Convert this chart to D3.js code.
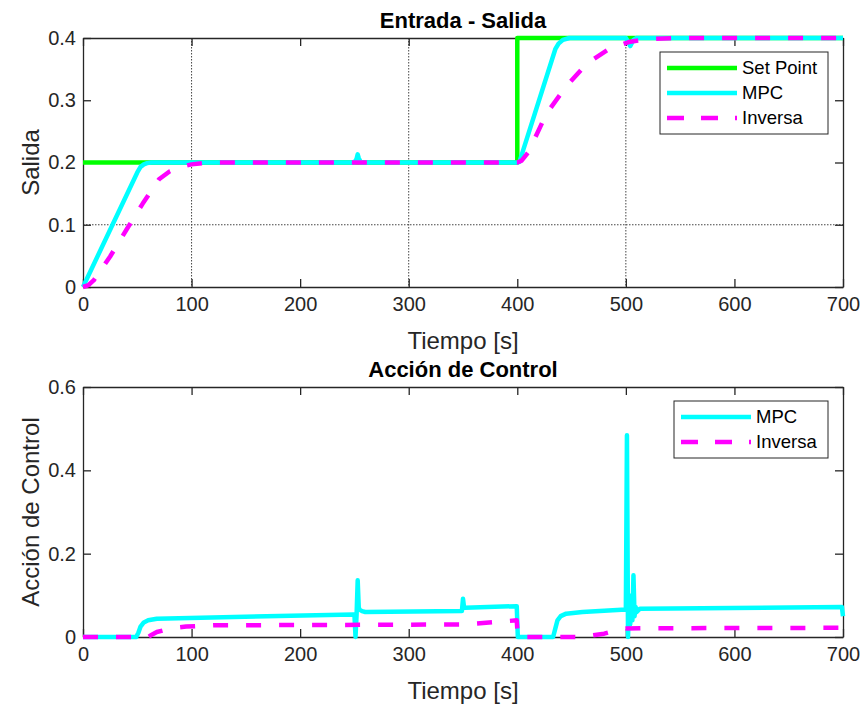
<!DOCTYPE html>
<html>
<head>
<meta charset="utf-8">
<script src="https://cdn.jsdelivr.net/npm/d3@7"></script>
<style>
  body { margin: 0; background: #fff; }
  svg text { font-family: "Liberation Sans", Arial, sans-serif; fill: #262626; }
</style>
</head>
<body>
<div id="chart"></div>
<script>
// ---- data ----
const spTime = [0, 400, 400, 700];
const spVal  = [0.2, 0.2, 0.4, 0.4];

const mpcTime = [0, 50, 53, 56, 59, 63, 250, 252, 253, 254, 256, 400, 402, 435, 438, 442, 448, 500, 502, 504, 507, 510, 700];
const mpcVal  = [0, 0.184, 0.193, 0.197, 0.199, 0.2, 0.2, 0.206, 0.213, 0.207, 0.2, 0.2, 0.201, 0.382, 0.391, 0.397, 0.4, 0.4, 0.394, 0.387, 0.397, 0.4, 0.4];

const invTime = [0, 5, 10, 25, 40, 55, 70, 80, 90, 100, 115, 400, 404, 410, 427, 445, 464, 485, 504, 520, 545, 700];
const invVal  = [0, 0.003, 0.011, 0.049, 0.092, 0.134, 0.173, 0.186, 0.193, 0.197, 0.2, 0.2, 0.203, 0.216, 0.279, 0.322, 0.359, 0.383, 0.394, 0.398, 0.4, 0.4];

const uMpcTime = [0, 49, 51, 53, 56, 60, 68, 249, 250, 251, 252, 253, 254, 255, 257, 260, 349, 350, 351, 352, 399.5, 400.5, 433, 435, 437, 440, 445, 460, 500, 501, 502, 503, 504, 505, 506, 507, 508, 509, 510, 513, 699, 700];
const uMpcVal  = [0, 0, 0.01, 0.025, 0.035, 0.04, 0.044, 0.054, 0.054, 0, 0.054, 0.136, 0.07, 0.065, 0.062, 0.06, 0.0624, 0.092, 0.07, 0.0704, 0.074, 0, 0, 0.02, 0.04, 0.05, 0.056, 0.06, 0.066, 0.484, 0, 0.1, 0.03, 0.08, 0.04, 0.148, 0.05, 0.072, 0.06, 0.068, 0.072, 0.05];

const uInvTime = [0, 60, 63, 68, 74, 85, 95, 120, 350, 360, 380, 399.5, 400.5, 460, 470, 480, 490, 497, 520, 700];
const uInvVal  = [0, 0, 0.005, 0.012, 0.016, 0.022, 0.025, 0.028, 0.03, 0.032, 0.036, 0.04, 0, 0, 0.004, 0.008, 0.015, 0.02, 0.021, 0.022];

const xTicks = [0, 100, 200, 300, 400, 500, 600, 700];
const yTicksTop = [0, 0.1, 0.2, 0.3, 0.4];
const yTicksBot = [0, 0.2, 0.4, 0.6];
const xGrid = [100, 300, 500];
const yGrid = [0.1];

// ---- layout ----
const width = 866, height = 704;
const left = 83, right = 843;
const tickFont = 20, labelFont = 24, titleFont = 22;
const green = "#00ff00", cyan = "#00ffff", magenta = "#ff00ff";

const svg = d3.select("#chart").append("svg")
  .attr("width", width)
  .attr("height", height);

const zip = (t, v) => t.map((d, i) => [d, v[i]]);

function panel(opts) {
  const x = d3.scaleLinear().domain([0, 700]).range([left, right]);
  const y = d3.scaleLinear().domain(opts.yDomain).range([opts.bottom, opts.top]);
  const g = svg.append("g");

  // grid
  g.selectAll(".gx").data(opts.xGrid || []).join("line")
    .attr("x1", d => x(d)).attr("x2", d => x(d))
    .attr("y1", opts.top).attr("y2", opts.bottom)
    .attr("stroke", "#444").attr("stroke-width", 1).attr("stroke-dasharray", "1.5,1.5");
  g.selectAll(".gy").data(opts.yGrid || []).join("line")
    .attr("x1", left).attr("x2", right)
    .attr("y1", d => y(d)).attr("y2", d => y(d))
    .attr("stroke", "#444").attr("stroke-width", 1).attr("stroke-dasharray", "1.5,1.5");

  const fmt = d => d === 0 ? "0" : d3.format("")(d);

  const axes = [
    [d3.axisBottom(x).tickValues(xTicks).tickFormat(fmt), `translate(0,${opts.bottom})`, 10],
    [d3.axisTop(x).tickValues(xTicks).tickFormat(""), `translate(0,${opts.top})`, 0],
    [d3.axisLeft(y).tickValues(opts.yTicks).tickFormat(fmt), `translate(${left},0)`, 7],
    [d3.axisRight(y).tickValues(opts.yTicks).tickFormat(""), `translate(${right},0)`, 0]
  ];
  axes.forEach(([ax, tr, pad]) => {
    const a = g.append("g").attr("transform", tr)
      .call(ax.tickSizeInner(-8).tickSizeOuter(0).tickPadding(pad));
    a.select(".domain").attr("stroke", "#262626").attr("stroke-width", 1.3);
    a.selectAll(".tick line").attr("stroke", "#262626").attr("stroke-width", 1.3);
    a.selectAll(".tick text").attr("font-size", tickFont).attr("fill", "#262626")
      .style("font-family", "'Liberation Sans', Arial, sans-serif");
  });

  // titles and labels
  g.append("text").attr("x", (left + right) / 2).attr("y", opts.top - 10)
    .attr("text-anchor", "middle").attr("font-size", titleFont).attr("font-weight", "bold")
    .style("fill", "#000").text(opts.title);
  g.append("text").attr("x", (left + right) / 2).attr("y", opts.bottom + 62)
    .attr("text-anchor", "middle").attr("font-size", labelFont).text("Tiempo [s]");
  g.append("text")
    .attr("transform", `translate(39,${(opts.top + opts.bottom) / 2}) rotate(-90)`)
    .attr("text-anchor", "middle").attr("font-size", labelFont).text(opts.ylabel);

  // series
  const line = d3.line().x(d => x(d[0])).y(d => y(d[1]));
  opts.series.forEach(s => {
    g.append("path").datum(s.data)
      .attr("d", line)
      .attr("fill", "none")
      .attr("stroke", s.color)
      .attr("stroke-width", 4.5)
      .attr("stroke-linejoin", "round")
      .attr("stroke-dasharray", s.dash ? "15,18" : null);
  });

  // legend
  const lg = g.append("g");
  const lx = opts.legend.x, ly = opts.legend.y, lw = opts.legend.w, rowH = 25;
  lg.append("rect").attr("x", lx).attr("y", ly)
    .attr("width", lw).attr("height", opts.series.length * rowH + 7)
    .attr("fill", "#fff").attr("stroke", "#262626").attr("stroke-width", 1);
  opts.series.forEach((s, i) => {
    const cy = ly + 16 + i * rowH;
    lg.append("line").attr("x1", lx + 7).attr("x2", lx + 77)
      .attr("y1", cy).attr("y2", cy)
      .attr("stroke", s.color).attr("stroke-width", 4.5)
      .attr("stroke-dasharray", s.dash ? "17,17" : null);
    lg.append("text").attr("x", lx + 82).attr("y", cy).attr("dy", "0.35em")
      .attr("font-size", 18.5).style("fill", "#000").text(s.name);
  });
}

panel({
  top: 38, bottom: 287, yDomain: [0, 0.4], yTicks: yTicksTop,
  xGrid: xGrid, yGrid: yGrid,
  title: "Entrada - Salida", ylabel: "Salida",
  legend: { x: 660, y: 52, w: 168 },
  series: [
    { name: "Set Point", color: green, data: zip(spTime, spVal) },
    { name: "MPC", color: cyan, data: zip(mpcTime, mpcVal) },
    { name: "Inversa", color: magenta, dash: true, data: zip(invTime, invVal) }
  ]
});

panel({
  top: 387, bottom: 637, yDomain: [0, 0.6], yTicks: yTicksBot,
  title: "Acción de Control", ylabel: "Acción de Control",
  legend: { x: 674, y: 401, w: 154 },
  series: [
    { name: "MPC", color: cyan, data: zip(uMpcTime, uMpcVal) },
    { name: "Inversa", color: magenta, dash: true, data: zip(uInvTime, uInvVal) }
  ]
});
</script>
</body>
</html>
